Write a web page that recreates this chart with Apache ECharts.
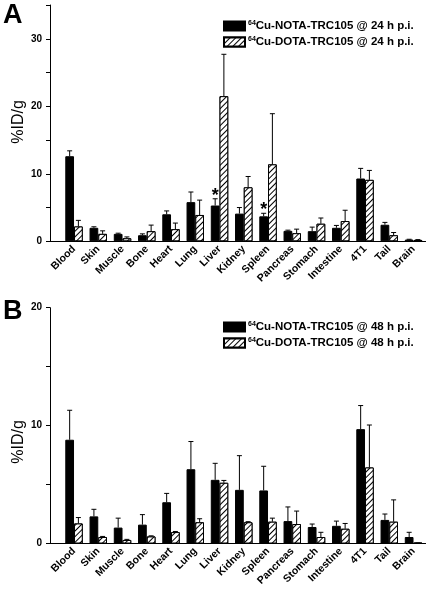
<!DOCTYPE html>
<html>
<head>
<meta charset="utf-8">
<script src="https://cdn.jsdelivr.net/npm/echarts@6/dist/echarts.min.js"></script>
<style>html,body{margin:0;padding:0;background:#fff}#c{width:430px;height:595px}</style>
</head>
<body>
<div id="c"></div>
<script>
const categories = ['Blood','Skin','Muscle','Bone','Heart','Lung','Liver','Kidney','Spleen','Pancreas','Stomach','Intestine','4T1','Tail','Brain'];

// Panel A (24 h p.i.)
const notaA = [12.6, 2.0, 1.1, 0.9, 4.0, 5.8, 5.3, 4.1, 3.7, 1.55, 1.5, 2.0, 9.3, 2.45, 0.25];
const notaAErr = [0.8, 0.15, 0.1, 0.2, 0.5, 1.5, 1.0, 0.9, 0.45, 0.1, 0.6, 0.35, 1.5, 0.35, 0.05];
const dotaA = [2.2, 1.1, 0.45, 1.5, 1.8, 3.9, 21.5, 8.0, 11.4, 1.2, 2.6, 3.0, 9.1, 0.9, 0.2];
const dotaAErr = [0.9, 0.45, 0.2, 0.9, 0.9, 2.2, 6.2, 1.6, 7.5, 0.6, 0.85, 1.6, 1.4, 0.4, 0.05];
const starA = [0, 0, 0, 0, 0, 0, 1, 0, 1, 0, 0, 0, 0, 0, 0];

// Panel B (48 h p.i.)
const notaB = [8.8, 2.3, 1.35, 1.6, 3.5, 6.3, 5.4, 4.55, 4.5, 1.9, 1.4, 1.5, 9.7, 2.0, 0.55];
const notaBErr = [2.5, 0.6, 0.8, 0.85, 0.75, 2.35, 1.4, 2.9, 2.05, 1.2, 0.25, 0.4, 2.0, 0.5, 0.4];
const dotaB = [1.7, 0.55, 0.3, 0.6, 0.97, 1.8, 5.15, 1.8, 1.85, 1.65, 0.55, 1.25, 6.45, 1.85, 0.05];
const dotaBErr = [0.5, 0.05, 0.05, 0.05, 0.05, 0.3, 0.2, 0.05, 0.3, 1.1, 0.4, 0.45, 3.6, 1.85, 0];

const yTicksA = {min: 0, max: 35, step: 5, labelStep: 10};
const yTicksB = {min: 0, max: 20, step: 5, labelStep: 10};

const nameNotaA = '64Cu-NOTA-TRC105 @ 24 h p.i.';
const nameDotaA = '64Cu-DOTA-TRC105 @ 24 h p.i.';
const nameNotaB = '64Cu-NOTA-TRC105 @ 48 h p.i.';
const nameDotaB = '64Cu-DOTA-TRC105 @ 48 h p.i.';

const FONT = '"Liberation Sans", Arial, sans-serif';
const GAP = 0.28;

const hatch = {
  symbol: 'rect', symbolSize: 1, color: '#000', backgroundColor: '#fff',
  dashArrayX: [1, 0], dashArrayY: [1, 2.6], rotation: -Math.PI / 4
};

function errSeries(vals, errs, side, xi, yi, stars) {
  return {
    type: 'custom', xAxisIndex: xi, yAxisIndex: yi, z: 5, silent: true,
    data: vals.map((v, i) => [i, v, errs[i], stars ? stars[i] : 0]),
    renderItem: function (params, api) {
      const i = api.value(0), v = api.value(1), e = api.value(2), s = api.value(3);
      const band = api.size([1, 0])[0];
      const bw = band * (1 - GAP) / 2;
      const p = api.coord([i, v]);
      const p2 = api.coord([i, v + e]);
      const x = p[0] + side * bw / 2;
      const st = {stroke: '#000', lineWidth: 1};
      const ch = [
        {type: 'line', shape: {x1: x, y1: p[1], x2: x, y2: p2[1]}, style: st},
        {type: 'line', shape: {x1: x - 2.5, y1: p2[1], x2: x + 2.5, y2: p2[1]}, style: st}
      ];
      if (s) {
        ch.push({type: 'text', style: {text: '*', x: x, y: p2[1] - 3, align: 'center', verticalAlign: 'middle',
          font: 'bold 18px ' + FONT, fill: '#000'}});
      }
      return {type: 'group', children: ch};
    }
  };
}

function barSeries(name, vals, hatched, xi, yi) {
  return {
    name: name, type: 'bar', xAxisIndex: xi, yAxisIndex: yi,
    barGap: '0%', barCategoryGap: (GAP * 100) + '%',
    data: vals,
    itemStyle: hatched
      ? {color: '#fff', borderColor: '#000', borderWidth: 1, decal: hatch, borderRadius: 0}
      : {color: '#000', borderColor: '#000', borderWidth: 1, borderRadius: 0}
  };
}

function legendFmt(n) { return '{sup|64}{t|' + n.slice(2) + '}'; }

function legend(top, names) {
  return {
    orient: 'vertical', left: 218, top: top, itemWidth: 21, itemHeight: 9, itemGap: 4,
    icon: 'rect', data: names, selectedMode: false,
    formatter: legendFmt,
    textStyle: {
      color: '#000', fontFamily: FONT, fontWeight: 'bold', fontSize: 11.5, padding: [0, 0, 0, -2],
      rich: {
        sup: {fontSize: 7, fontWeight: 'bold', fontFamily: FONT, color: '#000', verticalAlign: 'top', lineHeight: 12},
        t: {fontSize: 11.5, fontWeight: 'bold', fontFamily: FONT, color: '#000', lineHeight: 12}
      }
    }
  };
}

function valueYAxis(gridIndex, t, show) {
  return {
    type: 'value', gridIndex: gridIndex, min: t.min, max: t.max, interval: t.step,
    show: show,
    axisLine: {show: true, onZero: false, lineStyle: {color: '#000', width: 1}},
    axisTick: {show: true, inside: false, length: 4, lineStyle: {color: '#000', width: 1}},
    axisLabel: {show: true, margin: 8, color: '#000', fontFamily: FONT, fontWeight: 'bold', fontSize: 10,
      formatter: v => (v % t.labelStep === 0 ? String(v) : '')},
    splitLine: {show: false}
  };
}

function catXAxis(gridIndex) {
  return {
    type: 'category', gridIndex: gridIndex, data: categories,
    axisLine: {show: false}, axisTick: {show: false}, splitLine: {show: false},
    axisLabel: {interval: 0, rotate: 45, margin: 6, color: '#000', fontFamily: FONT, fontWeight: 'bold', fontSize: 10.5}
  };
}

function lineXAxis(gridIndex) {
  return {
    type: 'value', gridIndex: gridIndex, min: 0, max: 1,
    axisLine: {show: true, onZero: false, lineStyle: {color: '#000', width: 1}},
    axisTick: {show: false}, axisLabel: {show: false}, splitLine: {show: false}
  };
}

const gA = {top: 5, bottom: 595 - 241.3};
const gB = {top: 307.7, bottom: 595 - 543.5};
const barLeft = 61.9, barW = 15 * 24.25, axLeft = 50, axRight = 425.6;

const option = {
  animation: false,
  backgroundColor: '#fff',
  grid: [
    {left: barLeft, width: barW, top: gA.top, bottom: gA.bottom, containLabel: false},
    {left: axLeft, width: axRight - axLeft, top: gA.top, bottom: gA.bottom, containLabel: false},
    {left: barLeft, width: barW, top: gB.top, bottom: gB.bottom, containLabel: false},
    {left: axLeft, width: axRight - axLeft, top: gB.top, bottom: gB.bottom, containLabel: false}
  ],
  xAxis: [catXAxis(0), lineXAxis(1), catXAxis(2), lineXAxis(3)],
  yAxis: [valueYAxis(0, yTicksA, false), valueYAxis(1, yTicksA, true), valueYAxis(2, yTicksB, false), valueYAxis(3, yTicksB, true)],
  legend: [legend(15, [nameNotaA, nameDotaA]), legend(316, [nameNotaB, nameDotaB])],
  graphic: [
    {type: 'text', left: 3, top: 2, style: {text: 'A', font: 'bold 27px ' + FONT, fill: '#000'}},
    {type: 'text', left: 3, top: 298, style: {text: 'B', font: 'bold 27px ' + FONT, fill: '#000'}},
    {type: 'text', x: 19, y: 122, rotation: Math.PI / 2, style: {text: '%ID/g', font: '16px ' + FONT, fill: '#000', align: 'center', verticalAlign: 'middle'}},
    {type: 'text', x: 19, y: 442, rotation: Math.PI / 2, style: {text: '%ID/g', font: '16px ' + FONT, fill: '#000', align: 'center', verticalAlign: 'middle'}}
  ],
  series: [
    barSeries(nameNotaA, notaA, false, 0, 0),
    barSeries(nameDotaA, dotaA, true, 0, 0),
    errSeries(notaA, notaAErr, -1, 0, 0, starA),
    errSeries(dotaA, dotaAErr, 1, 0, 0, null),
    barSeries(nameNotaB, notaB, false, 2, 2),
    barSeries(nameDotaB, dotaB, true, 2, 2),
    errSeries(notaB, notaBErr, -1, 2, 2, null),
    errSeries(dotaB, dotaBErr, 1, 2, 2, null)
  ]
};

const chart = echarts.init(document.getElementById('c'), null, {renderer: 'canvas'});
chart.setOption(option);
</script>
</body>
</html>
